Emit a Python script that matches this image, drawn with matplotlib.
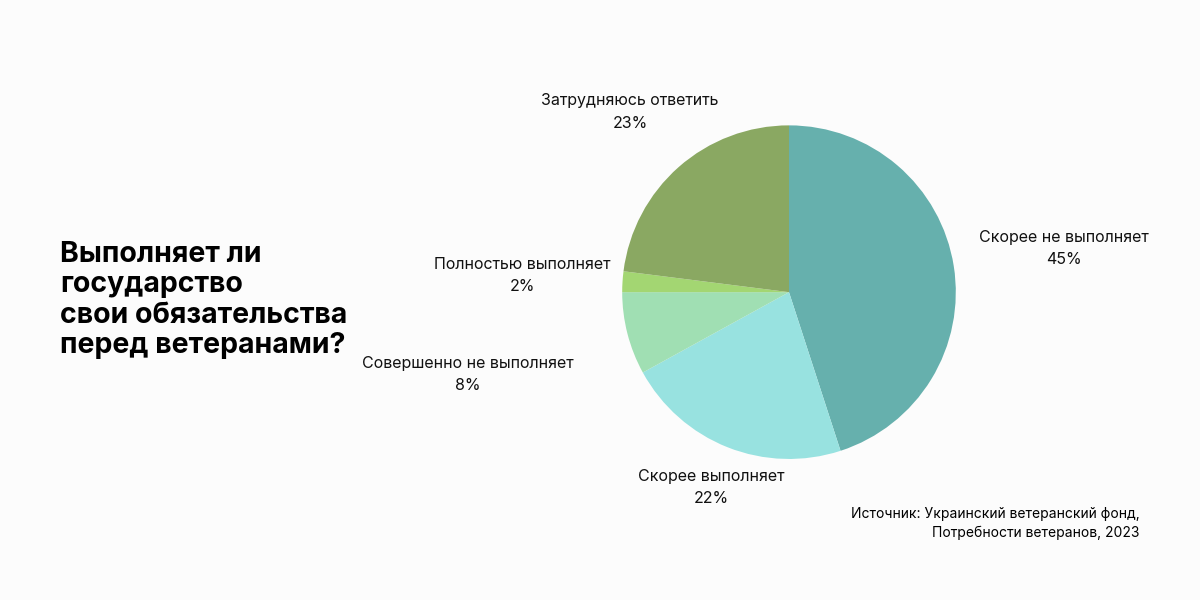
import matplotlib
matplotlib.use("Agg")
import matplotlib.pyplot as plt
import numpy as np

categories = ["Скорее не выполняет", "Скорее выполняет", "Совершенно не выполняет",
              "Полностью выполняет", "Затрудняюсь ответить"]
values = [45, 22, 8, 2, 23]
colors = ["#66b0ad", "#98e2e0", "#a0dfb3", "#a3d672", "#8aa862"]
label_dist = [1.67, 1.26, 1.99, 1.6, 1.44]

plt.rcParams['font.family'] = ['Inter', 'DejaVu Sans']
fig = plt.figure(figsize=(12, 6), dpi=100, facecolor="#fcfcfc")
ax = fig.add_axes([0.6575 - 0.139, 0.513 - 0.2783, 0.278, 0.5567])
wedges, _ = ax.pie(values, colors=colors, startangle=90, counterclock=False,
                   wedgeprops=dict(linewidth=0))
ax.set_xlim(-1, 1)
ax.set_ylim(-1, 1)
ax.set_aspect("equal")
for w, c, v, d in zip(wedges, categories, values, label_dist):
    ang = np.deg2rad((w.theta1 + w.theta2) / 2)
    ax.text(d * np.cos(ang), d * np.sin(ang), f"{c}\n{v}%", ha="center", va="center",
            fontsize=11.5, linespacing=1.6, color="#111111", clip_on=False)

fig.text(0.05, 0.5, "Выполняет ли\nгосударство\nсвои обязательства\nперед ветеранами?",
         fontsize=20.5, fontweight="bold", ha="left", va="center", linespacing=1.15)
fig.text(0.95, 0.128, "Источник: Украинский ветеранский фонд,\nПотребности ветеранов, 2023",
         fontsize=10, ha="right", va="center", linespacing=1.4)
fig.savefig("out.png", facecolor=fig.get_facecolor())
